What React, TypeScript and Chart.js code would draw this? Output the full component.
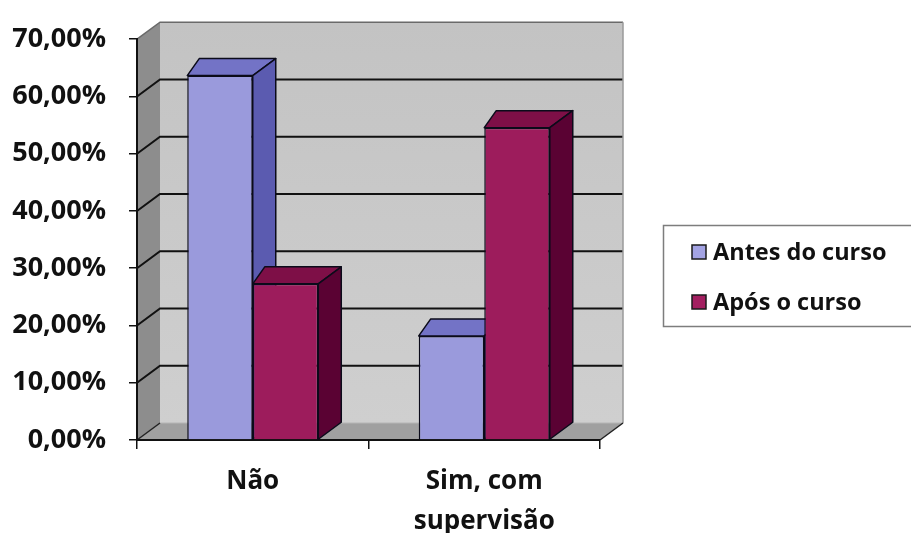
import React, { useEffect, useRef } from "react";
import { Chart, registerables } from "chart.js";

Chart.register(...registerables);

// ---- data ----
const categories: string[][] = [["Não"], ["Sim, com", "supervisão"]];
const seriesNames = ["Antes do curso", "Após o curso"];
const antesValues = [63.64, 18.18];
const aposValues = [27.27, 54.55];
const yTickValues = [0, 10, 20, 30, 40, 50, 60, 70];

// ---- styles ----
const FONT = "'Open Sans', 'Noto Sans', sans-serif";
const DX = 23;
const DXL = 12;
const DY = -17;
const palette = [
  { front: "#9a9adc", top: "#7373c6", side: "#5b5bb0", legend: "#a3a3e3" },
  { front: "#9d1c5c", top: "#7e0f47", side: "#5a0233", legend: "#a31f60" },
];

function poly(ctx: CanvasRenderingContext2D, pts: number[][], fill?: string, stroke?: string, lw = 1.5) {
  ctx.beginPath();
  ctx.moveTo(pts[0][0], pts[0][1]);
  for (let i = 1; i < pts.length; i++) ctx.lineTo(pts[i][0], pts[i][1]);
  ctx.closePath();
  if (fill) {
    ctx.fillStyle = fill;
    ctx.fill();
  }
  if (stroke) {
    ctx.strokeStyle = stroke;
    ctx.lineWidth = lw;
    ctx.lineJoin = "round";
    ctx.stroke();
  }
}

function line(ctx: CanvasRenderingContext2D, pts: number[][], color: string, lw: number) {
  ctx.beginPath();
  ctx.moveTo(pts[0][0], pts[0][1]);
  for (let i = 1; i < pts.length; i++) ctx.lineTo(pts[i][0], pts[i][1]);
  ctx.strokeStyle = color;
  ctx.lineWidth = lw;
  ctx.stroke();
}

const threeD = {
  id: "threeD",
  beforeDraw(chart: any) {
    const { ctx, chartArea: a } = chart;
    const y = chart.scales.y;
    const L = a.left, R = a.right, T = a.top, B = a.bottom;
    ctx.save();
    ctx.fillStyle = "#ffffff";
    ctx.fillRect(0, 0, chart.width, chart.height);
    // back wall
    const g = ctx.createLinearGradient(0, T + DY, 0, B + DY);
    g.addColorStop(0, "#c3c3c3");
    g.addColorStop(1, "#cfcfcf");
    ctx.fillStyle = g;
    ctx.fillRect(L + DX, T + DY, R - L, B - T);
    // left wall
    poly(ctx, [[L, T], [L + DX, T + DY], [L + DX, B + DY], [L, B]], "#8d8d8d");
    // floor
    poly(ctx, [[L, B], [L + DX, B + DY], [R + DX, B + DY], [R, B]], "#a0a0a0");
    // gridlines
    for (const v of yTickValues) {
      const py = y.getPixelForValue(v);
      if (v === 0) {
        line(ctx, [[L + DX, py + DY], [R + DX, py + DY]], "#b5b5b5", 1);
        line(ctx, [[L, py], [L + DX, py + DY]], "#222", 1.5);
      } else if (v === yTickValues[yTickValues.length - 1]) {
        line(ctx, [[L, py], [L + DX, py + DY], [R + DX, py + DY]], "#6a6a6a", 1.5);
      } else {
        line(ctx, [[L, py], [L + DX, py + DY], [R + DX, py + DY]], "#111", 2);
      }
    }
    // right edge of back wall
    line(ctx, [[R + DX, T + DY], [R + DX, B + DY]], "#9a9a9a", 1.5);
    // floor right edge
    line(ctx, [[R, B], [R + DX, B + DY]], "#222", 1.5);
    ctx.restore();
  },
  beforeDatasetsDraw(chart: any) {
    const { ctx } = chart;
    ctx.save();
    const metas = chart.data.datasets.map((_: any, i: number) => chart.getDatasetMeta(i));
    for (let j = 0; j < categories.length; j++) {
      for (let i = 0; i < metas.length; i++) {
        const bar = metas[i].data[j];
        const { x, y: top, width, base } = bar.getProps(["x", "y", "width", "base"], true);
        const x0 = x - width / 2;
        const x1 = x + width / 2;
        const c = palette[i];
        poly(ctx, [[x0, top], [x0 + DXL, top + DY], [x1 + DX, top + DY], [x1, top]], c.top, "#0b0b1a", 1.5);
        poly(ctx, [[x1, top], [x1 + DX, top + DY], [x1 + DX, base + DY], [x1, base]], c.side, "#0b0b1a", 1.5);
      }
    }
    ctx.restore();
  },
  afterDraw(chart: any) {
    const { ctx } = chart;
    ctx.save();
    const bx = 663.5, by = 225.5, bw = 260, bh = 101;
    ctx.fillStyle = "#ffffff";
    ctx.fillRect(bx, by, bw, bh);
    ctx.strokeStyle = "#7d7d7d";
    ctx.lineWidth = 1.5;
    ctx.strokeRect(bx, by, bw, bh);
    const rows = [252, 302];
    ctx.font = `bold 23.5px ${FONT}`;
    ctx.textBaseline = "middle";
    ctx.textAlign = "left";
    seriesNames.forEach((name, i) => {
      const cy = rows[i];
      ctx.fillStyle = palette[i].legend;
      ctx.fillRect(692, cy - 7, 14, 14);
      ctx.strokeStyle = "#1a1a1a";
      ctx.lineWidth = 1.5;
      ctx.strokeRect(692, cy - 7, 14, 14);
      ctx.fillStyle = "#111";
      ctx.fillText(name, 713, cy + 1);
    });
    ctx.restore();
  },
};

export default function App() {
  const ref = useRef<HTMLCanvasElement>(null);
  useEffect(() => {
    if (!ref.current) return;
    const chart = new Chart(ref.current, {
      type: "bar",
      data: {
        labels: categories,
        datasets: [
          {
            label: seriesNames[0],
            data: antesValues,
            backgroundColor: palette[0].front,
            borderColor: "#0b0b1a",
            borderWidth: 1.5,
          },
          {
            label: seriesNames[1],
            data: aposValues,
            backgroundColor: palette[1].front,
            borderColor: "#0b0b1a",
            borderWidth: 1.5,
          },
        ],
      },
      options: {
        responsive: false,
        animation: false,
        layout: { padding: { top: 34, right: 311, left: 0, bottom: 0 } },
        datasets: { bar: { categoryPercentage: 0.566, barPercentage: 1 } },
        plugins: { legend: { display: false }, tooltip: { enabled: false } },
        scales: {
          x: {
            afterFit: (s: any) => {
              s.height = 93;
            },
            grid: {
              offset: true,
              drawOnChartArea: false,
              drawTicks: true,
              tickLength: 9,
              color: "#111",
              lineWidth: 1.5,
            },
            border: { display: true, color: "#111", width: 2 },
            ticks: {
              font: { family: FONT, size: 26, weight: "bold", lineHeight: 1.52 },
              color: "#111",
              padding: 13,
              maxRotation: 0,
              autoSkip: false,
            },
          },
          y: {
            min: 0,
            max: 70,
            afterFit: (s: any) => {
              s.width = 137;
            },
            afterBuildTicks: (s: any) => {
              s.ticks = yTickValues.map((v) => ({ value: v }));
            },
            grid: {
              drawOnChartArea: false,
              drawTicks: true,
              tickLength: 8,
              color: "#111",
              lineWidth: 1.5,
            },
            border: { display: true, color: "#111", width: 2 },
            ticks: {
              font: { family: FONT, size: 27, weight: "bold" },
              color: "#111",
              padding: 23,
              callback: (v: any) => Number(v).toFixed(2).replace(".", ",") + "%",
            },
          },
        },
      },
      plugins: [threeD],
    });
    return () => chart.destroy();
  }, []);
  return (
    <div style={{ position: "absolute", left: 0, top: 0, width: 911, height: 533 }}>
      <canvas ref={ref} width={911} height={533} style={{ display: "block" }} />
    </div>
  );
}
